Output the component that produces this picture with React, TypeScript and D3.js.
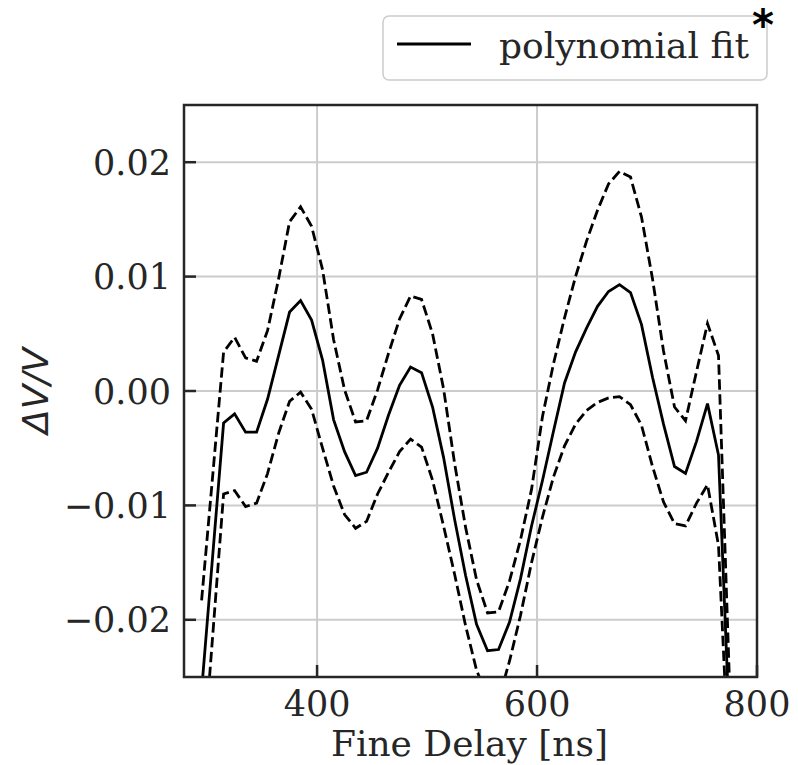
import React from "react";
import * as d3 from "d3";

const delays = [295,305,315,325,335,345,355,365,375,385,395,405,415,425,435,445,455,465,475,485,495,505,515,525,535,545,555,565,575,585,595,605,615,625,635,645,655,665,675,685,695,705,715,725,735,745,755,765,775];
const fit = [-0.0262,-0.0145,-0.0028,-0.0020,-0.0036,-0.0036,-0.0007,0.0031,0.0069,0.0079,0.0062,0.0027,-0.0025,-0.0053,-0.0074,-0.0071,-0.0050,-0.0021,0.0005,0.0021,0.0016,-0.0014,-0.0058,-0.0112,-0.0161,-0.0204,-0.0227,-0.0226,-0.0202,-0.0164,-0.0118,-0.0078,-0.0035,0.0007,0.0034,0.0055,0.0074,0.0087,0.0093,0.0086,0.0058,0.0012,-0.0029,-0.0066,-0.0072,-0.0044,-0.0011,-0.0056,-0.0295];
const upper = [-0.0183,-0.0075,0.0034,0.0047,0.0029,0.0026,0.0053,0.0098,0.0148,0.0161,0.0144,0.0106,0.0045,0.0001,-0.0027,-0.0026,0.0001,0.0033,0.0063,0.0083,0.0080,0.0050,0.0002,-0.0063,-0.0119,-0.0165,-0.0194,-0.0193,-0.0166,-0.0130,-0.0086,-0.0022,0.0024,0.0064,0.0100,0.0131,0.0158,0.0181,0.0192,0.0187,0.0152,0.0098,0.0035,-0.0014,-0.0026,0.0017,0.0059,0.0031,-0.0255];
const lower = [-0.0341,-0.0215,-0.0090,-0.0087,-0.0101,-0.0098,-0.0072,-0.0037,-0.0009,-0.0001,-0.0016,-0.0050,-0.0083,-0.0108,-0.0120,-0.0114,-0.0090,-0.0071,-0.0053,-0.0042,-0.0049,-0.0078,-0.0118,-0.0160,-0.0205,-0.0244,-0.0268,-0.0270,-0.0236,-0.0196,-0.0150,-0.0110,-0.0075,-0.0048,-0.0029,-0.0017,-0.0010,-0.0006,-0.0005,-0.0012,-0.0030,-0.0066,-0.0097,-0.0116,-0.0118,-0.0098,-0.0082,-0.0135,-0.034];
const xTicks = [400, 600, 800];
const yTicks = [-0.02, -0.01, 0, 0.01, 0.02];
const xLabel = "Fine Delay [ns]";
const yLabel = "ΔV/V";
const legendLabel = "polynomial fit";

const W = 798, H = 765;
const L = 184, R = 757, T = 105, B = 677;
const TXT = "#262626";
const SERIF = "'DejaVu Serif', serif";

export default function App() {
  const x = d3.scaleLinear().domain([279, 800]).range([L, R]);
  const y = d3.scaleLinear().domain([-0.025, 0.025]).range([B, T]);
  const mk = (vals: number[]) =>
    d3.line<number>().x((_, i) => x(delays[i])).y((v) => y(v))(vals) || "";
  const fmt = (v: number) => (v < 0 ? "\u2212" : "") + Math.abs(v).toFixed(2);
  return (
    <div style={{ position: "absolute", left: 0, top: 0 }}>
      <svg width={W} height={H} viewBox={`0 0 ${W} ${H}`} style={{ display: "block", background: "#fff" }}>
        <defs>
          <clipPath id="plotclip">
            <rect x={L} y={T} width={R - L} height={B - T} />
          </clipPath>
        </defs>
        {xTicks.filter((t) => x(t) < R - 1).map((t) => (
          <line key={"gx" + t} x1={x(t)} x2={x(t)} y1={T} y2={B} stroke="#cccccc" strokeWidth={2} />
        ))}
        {yTicks.map((t) => (
          <line key={"gy" + t} x1={L} x2={R} y1={y(t)} y2={y(t)} stroke="#cccccc" strokeWidth={2} />
        ))}
        <g clipPath="url(#plotclip)" fill="none" stroke="#000" strokeWidth={2.8} strokeLinejoin="miter">
          <path d={mk(upper)} strokeDasharray="10.4 4.5" />
          <path d={mk(lower)} strokeDasharray="10.4 4.5" />
          <path d={mk(fit)} />
        </g>
        {yTicks.map((t) => (
          <line key={"ty" + t} x1={L} x2={L + 12} y1={y(t)} y2={y(t)} stroke={TXT} strokeWidth={2.5} />
        ))}
        {xTicks.map((t) => (
          <line key={"tx" + t} x1={x(t)} x2={x(t)} y1={B} y2={B - 12} stroke={TXT} strokeWidth={2.5} />
        ))}
        <rect x={L} y={T} width={R - L} height={B - T} fill="none" stroke={TXT} strokeWidth={2.5} />
        {yTicks.map((t) => (
          <text key={"ly" + t} x={L - 13} y={y(t)} dy="0.36em" textAnchor="end" fontFamily={SERIF} fontSize={35} fill={TXT}>
            {fmt(t)}
          </text>
        ))}
        {xTicks.map((t) => (
          <text key={"lx" + t} x={x(t)} y={716} textAnchor="middle" fontFamily={SERIF} fontSize={35} fill={TXT}>
            {t}
          </text>
        ))}
        <text x={(L + R) / 2 - 1} y={756} textAnchor="middle" fontFamily={SERIF} fontSize={36} fill={TXT}>
          {xLabel}
        </text>
        <text transform={`translate(48, ${(T + B) / 2}) rotate(-90)`} textAnchor="middle" fontFamily="'DejaVu Sans', sans-serif" fontStyle="italic" fontSize={36} fill={TXT}>
          {yLabel}
        </text>
        <rect x={383} y={16} width={384} height={64} rx={6} ry={6} fill="#fff" stroke="#cccccc" strokeWidth={1.5} />
        <line x1={397} x2={471} y1={44} y2={44} stroke="#000" strokeWidth={2.8} />
        <text x={499} y={58} fontFamily={SERIF} fontSize={36} fill={TXT}>
          {legendLabel}
        </text>
        <text x={763} y={40} textAnchor="middle" fontFamily="'DejaVu Sans', sans-serif" fontWeight="bold" fontSize={42} fill="#000">
          *
        </text>
      </svg>
    </div>
  );
}
